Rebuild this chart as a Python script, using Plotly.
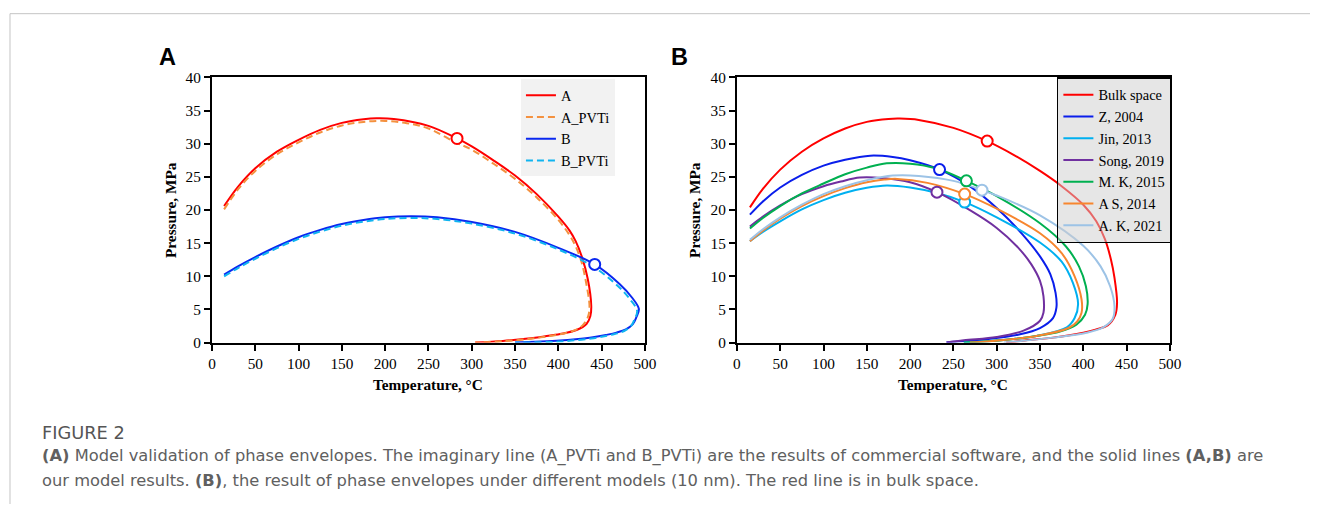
import plotly.graph_objects as go

W, H = 1322, 512
# measured page scaling of the rendered figure (window = S * figure + O)
SX, OX = 0.988, 4.0
SY, OY = 0.970, 7.3

# ---------------- Panel A data ----------------
a_T = [14, 30, 50, 75, 100, 125, 150, 175, 190, 210, 250, 283, 300, 325, 350, 375, 400, 413, 420, 427, 434, 438, 437, 432.5, 421, 402, 385, 365, 336, 304]
a_P = [20.6, 23.5, 26.3, 28.8, 30.6, 32.1, 33.15, 33.7, 33.85, 33.75, 32.7, 30.8, 29.6, 27.5, 25.2, 22.4, 19.0, 16.9, 15.3, 13.0, 9.6, 5.5, 4.0, 2.8, 1.9, 1.3, 0.95, 0.6, 0.25, 0.0]

apvti_T = [14, 30, 50, 75, 100, 125, 150, 175, 200, 225, 250, 280, 300, 325, 350, 375, 400, 412, 419, 426, 432, 436, 434, 428, 418, 400, 385, 365, 336, 304]
apvti_P = [20.1, 23.1, 25.9, 28.4, 30.2, 31.7, 32.75, 33.3, 33.45, 33.1, 32.3, 30.3, 29.1, 27.0, 24.7, 21.9, 18.5, 16.4, 14.8, 12.5, 9.1, 5.3, 3.8, 2.6, 1.8, 1.2, 0.9, 0.55, 0.2, 0.0]

b_T = [14, 30, 50, 75, 100, 125, 150, 175, 200, 230, 260, 300, 350, 400, 442, 471, 485, 493, 490, 486, 478, 467, 455, 440, 420, 402, 380, 350]
b_P = [10.25, 11.5, 12.9, 14.5, 15.9, 17.0, 17.9, 18.5, 18.9, 19.05, 18.9, 18.2, 16.7, 14.3, 11.8, 8.8, 6.8, 5.07, 3.8, 2.8, 2.0, 1.5, 1.15, 0.8, 0.5, 0.3, 0.15, 0.0]

bpvti_T = [14, 30, 50, 75, 100, 125, 150, 175, 200, 230, 260, 300, 350, 400, 440, 469, 483, 491, 488, 484, 476, 465, 453, 438, 418, 400, 378, 350]
bpvti_P = [10.0, 11.25, 12.65, 14.25, 15.65, 16.75, 17.65, 18.25, 18.65, 18.8, 18.65, 17.95, 16.45, 14.05, 11.5, 8.5, 6.5, 4.8, 3.5, 2.5, 1.75, 1.3, 0.95, 0.6, 0.35, 0.15, 0.05, 0.0]

a_crit = (283, 30.8)
b_crit = (442, 11.8)

# ---------------- Panel B data ----------------
bulk_T = [15, 30, 50, 75, 100, 125, 150, 175, 188, 210, 250, 289, 320, 350, 375, 400, 415, 425, 432, 436, 439, 437, 428, 415, 400, 365, 327, 311]
bulk_P = [20.4, 23.2, 26.1, 28.8, 30.8, 32.3, 33.3, 33.75, 33.8, 33.6, 32.4, 30.4, 28.3, 25.9, 23.6, 20.8, 18.3, 15.6, 12.5, 9.8, 6.0, 4.2, 2.6, 2.0, 1.5, 0.75, 0.25, 0.0]

z_T = [15, 30, 50, 75, 100, 125, 154, 180, 200, 234, 270, 300, 330, 350, 362, 368, 369, 365, 350, 327, 288, 250, 242]
z_P = [19.3, 21.3, 23.4, 25.3, 26.7, 27.6, 28.2, 28.0, 27.5, 26.1, 23.5, 20.3, 16.3, 13.0, 10.3, 7.5, 5.3, 3.7, 2.2, 1.25, 0.5, 0.12, 0.0]

jin_T = [15, 30, 50, 75, 100, 125, 150, 173, 200, 230, 263, 300, 350, 375, 388, 394, 390, 381, 346, 308, 262]
jin_P = [15.3, 16.7, 18.3, 20.1, 21.5, 22.6, 23.35, 23.7, 23.4, 22.6, 21.2, 18.9, 15.1, 12.2, 9.0, 5.8, 3.7, 2.3, 1.0, 0.4, 0.0]

song_T = [15, 30, 50, 75, 100, 120, 142, 170, 200, 231, 270, 300, 325, 340, 350, 354, 354, 350, 331, 300, 262, 242]
song_P = [17.5, 19.0, 20.7, 22.4, 23.6, 24.3, 24.9, 24.8, 24.2, 22.7, 19.9, 17.3, 14.3, 11.8, 9.3, 7.0, 4.5, 3.3, 1.8, 0.85, 0.35, 0.0]

mk_T = [15, 30, 50, 75, 100, 125, 150, 173, 200, 230, 265, 300, 350, 380, 395, 403, 405, 402, 392, 373, 346, 308, 262]
mk_P = [17.2, 18.8, 20.6, 22.5, 24.0, 25.4, 26.4, 27.05, 27.0, 26.3, 24.4, 22.1, 18.0, 14.5, 11.5, 8.5, 5.8, 4.2, 2.7, 1.65, 1.0, 0.4, 0.0]

as_T = [15, 30, 50, 75, 100, 125, 150, 170, 185, 220, 263, 300, 350, 375, 390, 398, 398, 393, 383, 346, 308, 269]
as_P = [15.3, 16.9, 18.7, 20.6, 22.1, 23.3, 24.2, 24.6, 24.7, 24.1, 22.4, 20.2, 16.5, 13.5, 10.0, 6.5, 4.5, 3.2, 2.2, 1.0, 0.4, 0.0]

ak_T = [15, 30, 50, 75, 100, 125, 150, 180, 210, 250, 283, 300, 350, 400, 420, 431, 436, 434, 423, 404, 365, 308]
ak_P = [15.5, 17.1, 18.9, 20.8, 22.4, 23.6, 24.5, 25.2, 25.15, 24.4, 23.0, 22.2, 19.2, 14.6, 11.5, 8.5, 5.5, 3.6, 2.3, 1.5, 0.75, 0.0]

crit_B = {
    "Bulk space": (289, 30.4),
    "Z, 2004": (234, 26.1),
    "Jin, 2013": (263, 21.2),
    "Song, 2019": (231, 22.7),
    "M. K, 2015": (265, 24.4),
    "A S, 2014": (263, 22.4),
    "A. K, 2021": (283, 23.0),
}

x_ticks = list(range(0, 501, 50))
y_ticks = list(range(0, 41, 5))

fig = go.Figure()

def curve(x, y, name, color, xa, ya, legend, dash="solid"):
    fig.add_trace(go.Scatter(
        x=x, y=y, name=name, mode="lines",
        line=dict(color=color, width=2, dash=dash, shape="spline", smoothing=1.0),
        xaxis=xa, yaxis=ya, legend=legend))

def crit(pt, color, xa, ya):
    fig.add_trace(go.Scatter(
        x=[pt[0]], y=[pt[1]], mode="markers", showlegend=False,
        marker=dict(symbol="circle", size=11, color="white",
                    line=dict(color=color, width=2)),
        xaxis=xa, yaxis=ya))

RED = "#FF0000"
ORANGE = "#F4913F"
BLUE = "#0A28F0"
SKY = "#10B4F0"
DASH = "7px,4px"

curve(a_T, a_P, "A", RED, "x", "y", "legend")
curve(apvti_T, apvti_P, "A_PVTi", ORANGE, "x", "y", "legend", dash=DASH)
curve(b_T, b_P, "B", BLUE, "x", "y", "legend")
curve(bpvti_T, bpvti_P, "B_PVTi", SKY, "x", "y", "legend", dash=DASH)
crit(a_crit, RED, "x", "y")
crit(b_crit, BLUE, "x", "y")

series_B = [
    ("Bulk space", bulk_T, bulk_P, "#FF0000"),
    ("Z, 2004", z_T, z_P, "#0A1EEB"),
    ("Jin, 2013", jin_T, jin_P, "#00B0F0"),
    ("Song, 2019", song_T, song_P, "#7030A0"),
    ("M. K, 2015", mk_T, mk_P, "#00B050"),
    ("A S, 2014", as_T, as_P, "#F7862F"),
    ("A. K, 2021", ak_T, ak_P, "#9DC3E6"),
]
for name, T, P, c in series_B:
    curve(T, P, name, c, "x2", "y2", "legend2")
for name, T, P, c in series_B:
    crit(crit_B[name], c, "x2", "y2")

def px_x(p):
    return ((p - OX) / SX) / W

def px_y(p):
    return 1 - ((p - OY) / SY) / H

axis_font = dict(family="Liberation Serif", size=15.3, color="black")
ax_common = dict(
    showline=True, linecolor="black", linewidth=2, mirror=True,
    ticks="outside", ticklen=6, tickwidth=1.5, tickcolor="black",
    showgrid=False, zeroline=False, tickfont=axis_font, fixedrange=True,
)

ydom = [px_y(342), px_y(76)]
fig.update_layout(
    width=W, height=H,
    margin=dict(l=0, r=0, t=0, b=0),
    paper_bgcolor="white", plot_bgcolor="white",
    xaxis=dict(domain=[px_x(212), px_x(645)], range=[0, 500], tickvals=x_ticks, anchor="y", **ax_common),
    yaxis=dict(domain=ydom, range=[0, 40], tickvals=y_ticks, anchor="x", **ax_common),
    xaxis2=dict(domain=[px_x(737), px_x(1170)], range=[0, 500], tickvals=x_ticks, anchor="y2", **ax_common),
    yaxis2=dict(domain=ydom, range=[0, 40], tickvals=y_ticks, anchor="x2", **ax_common),
    legend=dict(
        x=px_x(521), y=px_y(78), xanchor="left", yanchor="top",
        bgcolor="#F2F2F2", borderwidth=0,
        font=dict(family="Liberation Serif", size=14.4, color="black"),
        tracegroupgap=0, itemwidth=30,
    ),
    legend2=dict(
        x=px_x(1057), y=px_y(76), xanchor="left", yanchor="top",
        bgcolor="rgba(205,205,205,0.5)", bordercolor="black", borderwidth=1.5,
        font=dict(family="Liberation Serif", size=14.4, color="black"),
        tracegroupgap=0, itemwidth=30,
    ),
    showlegend=True,
)

ann = []
title_font = dict(family="Liberation Serif", size=15.3, color="black")
for cx in [(212 + 645) / 2, (737 + 1170) / 2]:
    ann.append(dict(x=px_x(cx), y=px_y(384), xref="paper", yref="paper",
                    text="<b>Temperature, °C</b>", showarrow=False,
                    font=title_font, xanchor="center", yanchor="middle"))
for cx in [170, 694]:
    ann.append(dict(x=px_x(cx), y=px_y(209), xref="paper", yref="paper",
                    text="<b>Pressure, MPa</b>", showarrow=False, textangle=-90,
                    font=title_font, xanchor="center", yanchor="middle"))
for cx, lab in [(168, "A"), (680, "B")]:
    ann.append(dict(x=px_x(cx), y=px_y(55), xref="paper", yref="paper",
                    text="<b>%s</b>" % lab, showarrow=False,
                    font=dict(family="Liberation Sans", size=23.5, color="black"),
                    xanchor="center", yanchor="middle"))

cap_font = dict(family="DejaVu Sans", size=16.3, color="#606060")
ann.append(dict(x=px_x(40), y=px_y(432), xref="paper", yref="paper",
                text="FIGURE 2", showarrow=False,
                font=dict(family="DejaVu Sans", size=17.8, color="#555555"),
                xanchor="left", yanchor="middle"))
ann.append(dict(x=px_x(40), y=px_y(456), xref="paper", yref="paper",
                text="<b>(A)</b> Model validation of phase envelopes. The imaginary line (A_PVTi and B_PVTi) are the results of commercial software, and the solid lines <b>(A,B)</b> are",
                showarrow=False, font=cap_font, xanchor="left", yanchor="middle"))
ann.append(dict(x=px_x(40), y=px_y(480), xref="paper", yref="paper",
                text="our model results. <b>(B)</b>, the result of phase envelopes under different models (10 nm). The red line is in bulk space.",
                showarrow=False, font=cap_font, xanchor="left", yanchor="middle"))
fig.update_layout(annotations=ann)

fig.update_layout(shapes=[
    dict(type="line", xref="paper", yref="paper", x0=px_x(10), x1=1, y0=px_y(12), y1=px_y(12),
         line=dict(color="#C4C4C4", width=1)),
    dict(type="line", xref="paper", yref="paper", x0=px_x(10), x1=px_x(10), y0=px_y(12), y1=0,
         line=dict(color="#C4C4C4", width=1)),
])

fig.write_html("out.html")
